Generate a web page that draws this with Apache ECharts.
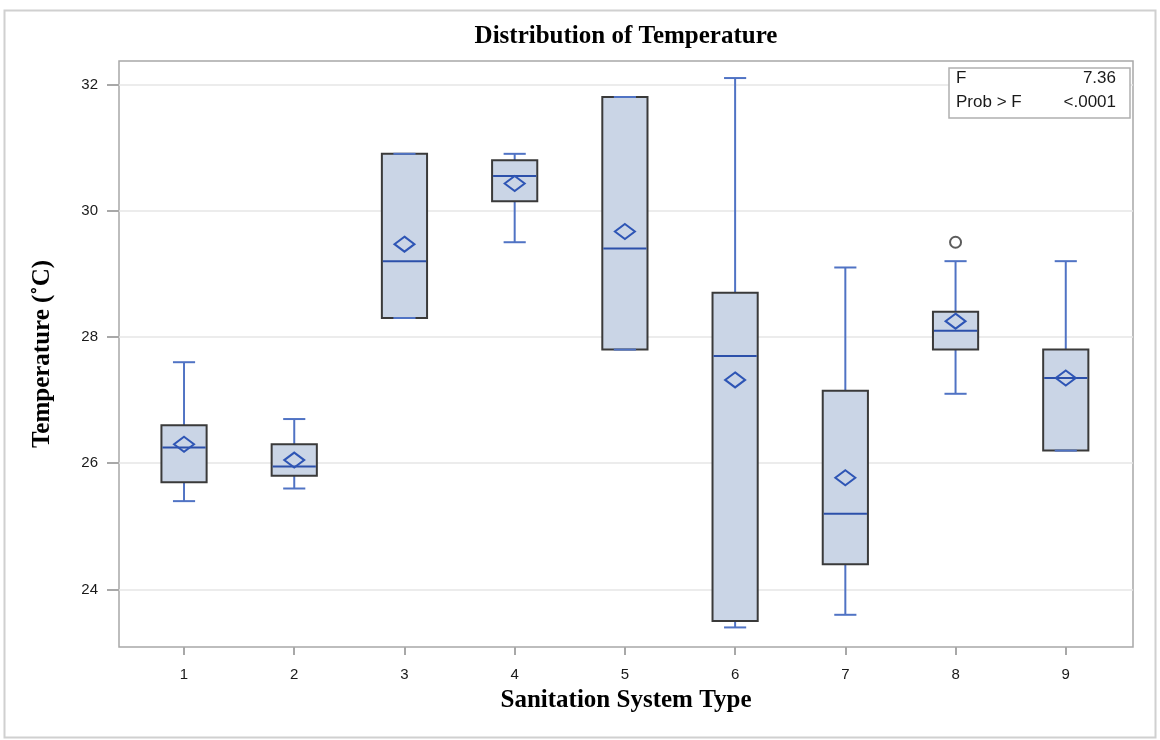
<!DOCTYPE html>
<html>
<head>
<meta charset="utf-8">
<script src="https://cdn.jsdelivr.net/npm/echarts@6/dist/echarts.min.js"></script>
<style>
  html, body { margin: 0; padding: 0; background: #fff; }
  #chart { width: 1160px; height: 740px; }
</style>
</head>
<body>
<div id="chart"></div>
<script>
// box statistics per sanitation system type
var types    = [1, 2, 3, 4, 5, 6, 7, 8, 9];
var whiskLo  = [25.4, 25.6, 28.3, 29.5, 27.8, 23.4, 23.6, 27.1, 26.2];
var q1       = [25.7, 25.8, 28.3, 30.15, 27.8, 23.5, 24.4, 27.8, 26.2];
var medians  = [26.25, 25.95, 29.2, 30.55, 29.4, 27.7, 25.2, 28.1, 27.35];
var q3       = [26.6, 26.3, 30.9, 30.8, 31.8, 28.7, 27.15, 28.4, 27.8];
var whiskHi  = [27.6, 26.7, 30.9, 30.9, 31.8, 32.1, 29.1, 29.2, 29.2];
var means    = [26.3, 26.05, 29.47, 30.43, 29.67, 27.32, 25.77, 28.25, 27.35];
var outliers = [[8, 29.5]];
var yTicks   = [24, 26, 28, 30, 32];

var boxData = [];
for (var i = 0; i < types.length; i++) {
    boxData.push([types[i], whiskLo[i], q1[i], medians[i], q3[i], whiskHi[i], means[i]]);
}

var chart = echarts.init(document.getElementById('chart'));

function renderBox(params, api) {
    var x = api.value(0);
    var w = api.size([1, 0])[0] * 0.41;
    var cap = w * 0.49;
    var pLo = api.coord([x, api.value(1)]);
    var pQ1 = api.coord([x, api.value(2)]);
    var pMd = api.coord([x, api.value(3)]);
    var pQ3 = api.coord([x, api.value(4)]);
    var pHi = api.coord([x, api.value(5)]);
    var pMn = api.coord([x, api.value(6)]);
    var cx = pMd[0];
    var whiskStyle = { stroke: '#5073c4', lineWidth: 2 };
    var dw = 10, dh = 7.5;
    return {
        type: 'group',
        children: [
            { type: 'line', shape: { x1: cx, y1: pHi[1], x2: cx, y2: pQ3[1] }, style: whiskStyle },
            { type: 'line', shape: { x1: cx, y1: pQ1[1], x2: cx, y2: pLo[1] }, style: whiskStyle },
            {
                type: 'rect',
                shape: { x: cx - w / 2, y: pQ3[1], width: w, height: pQ1[1] - pQ3[1] },
                style: { fill: '#cad5e6', stroke: '#3a3a3a', lineWidth: 2 }
            },
            { type: 'line', shape: { x1: cx - cap / 2, y1: pHi[1], x2: cx + cap / 2, y2: pHi[1] }, style: whiskStyle },
            { type: 'line', shape: { x1: cx - cap / 2, y1: pLo[1], x2: cx + cap / 2, y2: pLo[1] }, style: whiskStyle },
            { type: 'line', shape: { x1: cx - w / 2 + 1, y1: pMd[1], x2: cx + w / 2 - 1, y2: pMd[1] }, style: { stroke: '#2c50aa', lineWidth: 2 } },
            {
                type: 'polygon',
                shape: { points: [[cx, pMn[1] - dh], [cx + dw, pMn[1]], [cx, pMn[1] + dh], [cx - dw, pMn[1]]] },
                style: { fill: 'none', stroke: '#2e55b5', lineWidth: 2 }
            }
        ]
    };
}

var serif = 'Liberation Serif';
var sans = 'Liberation Sans';
var statFont = '17px "Liberation Sans"';

var option = {
    backgroundColor: '#fff',
    animation: false,
    title: {
        text: 'Distribution of Temperature',
        left: 621,
        textAlign: 'center',
        top: 19,
        textStyle: { fontFamily: serif, fontWeight: 'bold', fontSize: 25, color: '#000' }
    },
    grid: {
        left: 119, top: 61, right: 27, bottom: 93,
        show: true, borderColor: '#a8a8a8', borderWidth: 1.5
    },
    xAxis: {
        type: 'value',
        min: 0.41,
        max: 9.61,
        name: 'Sanitation System Type',
        nameLocation: 'middle',
        nameGap: 41,
        nameTextStyle: { fontFamily: serif, fontWeight: 'bold', fontSize: 25, color: '#000' },
        axisLine: { show: false },
        axisTick: { show: true, customValues: types, length: 8, lineStyle: { color: '#a8a8a8', width: 2 } },
        axisLabel: { customValues: types, margin: 20, fontFamily: sans, fontSize: 15, color: '#1a1a1a' },
        splitLine: { show: false }
    },
    yAxis: {
        type: 'value',
        min: 23.09,
        max: 32.37,
        name: 'Temperature (˚C)',
        nameLocation: 'middle',
        nameGap: 64,
        nameTextStyle: { fontFamily: serif, fontWeight: 'bold', fontSize: 25, color: '#000' },
        axisLine: { show: false },
        axisTick: { show: true, customValues: yTicks, length: 12, lineStyle: { color: '#a8a8a8', width: 2 } },
        axisLabel: { customValues: yTicks, margin: 21, fontFamily: sans, fontSize: 15, color: '#1a1a1a' },
        splitLine: { show: true, lineStyle: { color: '#e6e6e6', width: 1.5 } }
    },
    graphic: [
        {
            type: 'rect', left: 2, top: 8, z: -10, silent: true,
            shape: { width: 1151, height: 727 },
            style: { fill: 'none', stroke: '#d0d0d0', lineWidth: 2 }
        },
        { type: 'rect', x: 949, y: 68, z: 100, shape: { x: 0, y: 0, width: 181, height: 50 }, style: { fill: '#fff', stroke: '#b0b0b0', lineWidth: 1.5 } },
        { type: 'text', x: 956, y: 70, z: 101, style: { text: 'F', font: statFont, fill: '#1a1a1a' } },
        { type: 'text', x: 1116, y: 70, z: 101, style: { text: '7.36', font: statFont, fill: '#1a1a1a', textAlign: 'right' } },
        { type: 'text', x: 956, y: 94, z: 101, style: { text: 'Prob > F', font: statFont, fill: '#1a1a1a' } },
        { type: 'text', x: 1116, y: 94, z: 101, style: { text: '<.0001', font: statFont, fill: '#1a1a1a', textAlign: 'right' } }
    ],
    series: [
        {
            type: 'custom',
            renderItem: renderBox,
            encode: { x: 0, y: [1, 2, 3, 4, 5, 6] },
            data: boxData
        },
        {
            type: 'scatter',
            symbol: 'emptyCircle',
            symbolSize: 11,
            itemStyle: { color: '#333', borderColor: '#333', borderWidth: 1.5 },
            data: outliers
        }
    ]
};

chart.setOption(option);
</script>
</body>
</html>
